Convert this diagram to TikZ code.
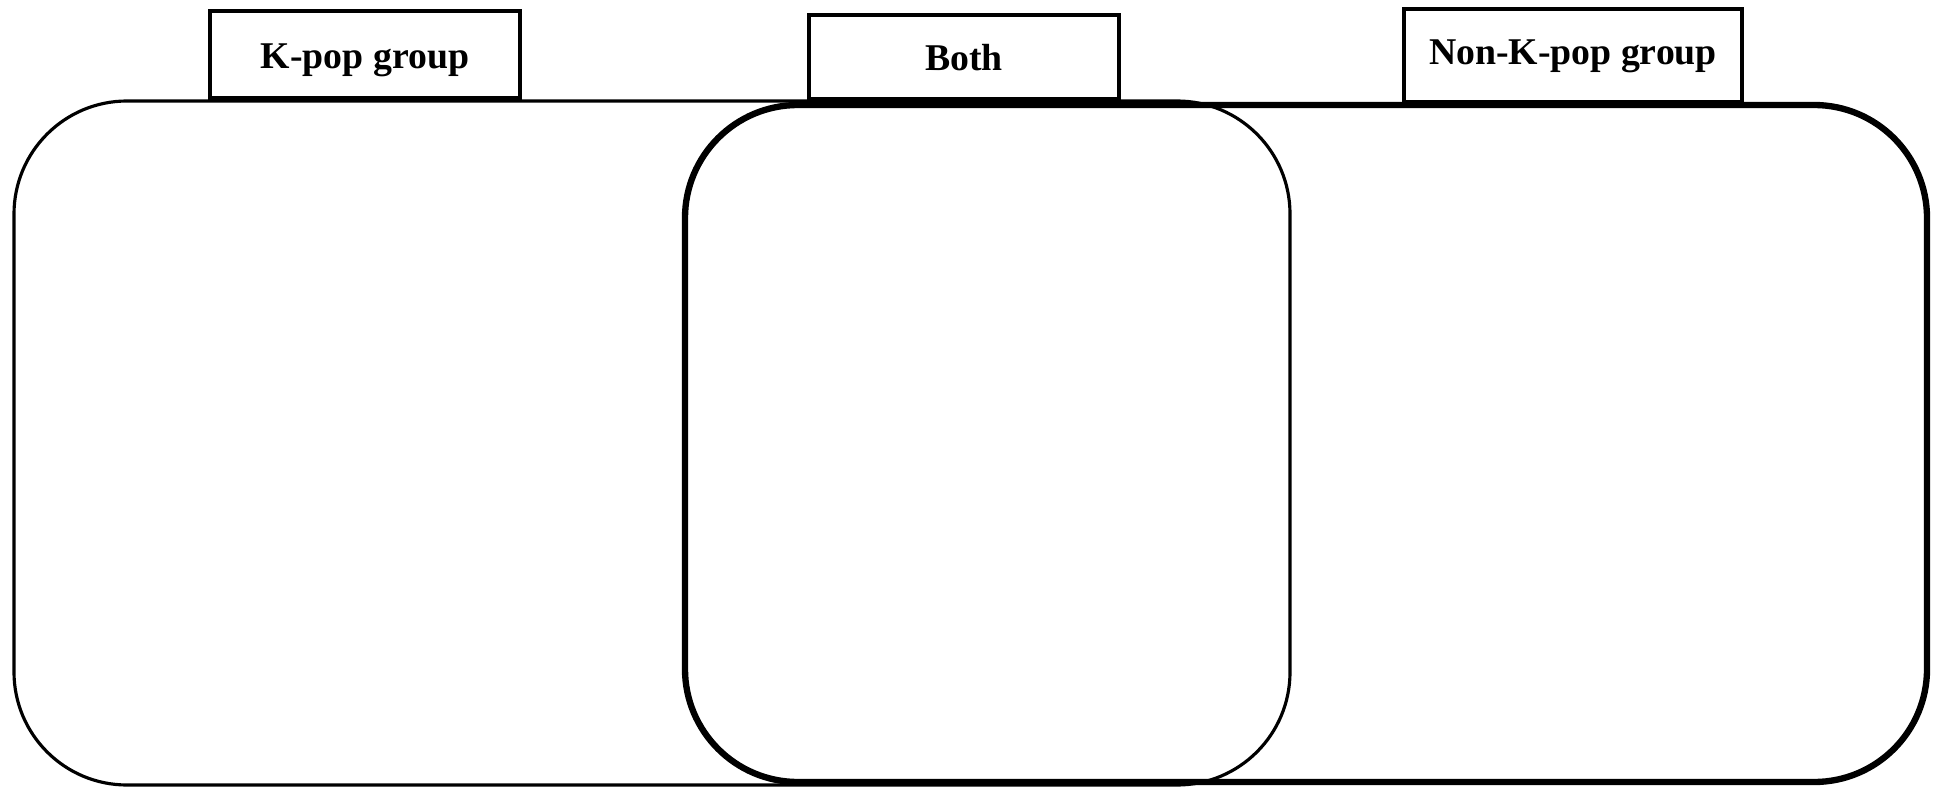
\documentclass[tikz,border=0pt]{standalone}
\usepackage{fontspec}
\setmainfont{Liberation Serif}
\usetikzlibrary{positioning}
\tikzset{
  tabbox/.style={draw, line width=2pt, fill=white, minimum width=6.2cm, minimum height=1.74cm, inner sep=0pt,
    text height=15.4pt, text depth=0pt, font=\fontsize{21.5}{26}\selectfont\bfseries},
  thinset/.style={line width=1.8pt, rounded corners=2.26cm},
  thickset/.style={line width=3.6pt, rounded corners=2.26cm}
}
\begin{document}
\begin{tikzpicture}[x=0.02cm, y=-0.02cm]
    \useasboundingbox (0,0) rectangle (1936,787);

    % Sets (thin one for K-pop, thick one for non-K-pop)
    \draw[thinset] (14,101) rectangle (1290,785);
    \draw[thickset] (685,105) rectangle (1927,782);

    % Tab labels
    \node[tabbox] (kpop) at (365,54.5) {K-pop group};
    \node[tabbox, minimum height=1.68cm] (both) at (964,57) {Both};
    \node[tabbox, minimum width=6.76cm, minimum height=1.86cm, text depth=5.6pt] (nonkpop) at (1573,55.5) {Non-K-pop group};
\end{tikzpicture}
\end{document}
